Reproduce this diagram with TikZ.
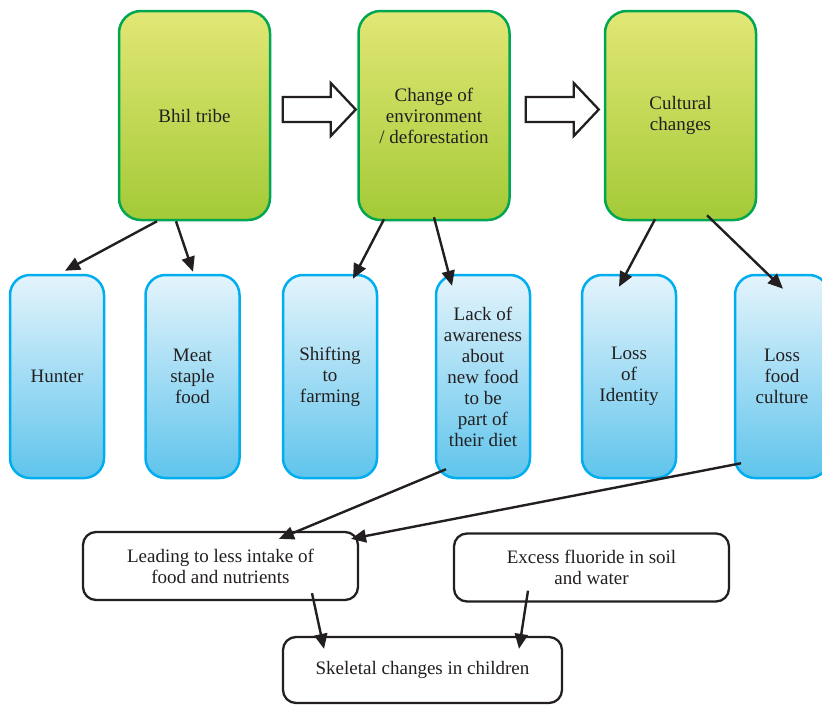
\documentclass[tikz,border=0pt]{standalone}
\usepackage{fontspec}
\setmainfont{Liberation Serif}
\usetikzlibrary{arrows.meta,positioning,calc}
\definecolor{boxgreen}{RGB}{0,166,81}
\definecolor{greentop}{RGB}{226,231,117}
\definecolor{greenbot}{RGB}{163,202,55}
\definecolor{boxblue}{RGB}{0,174,239}
\definecolor{bluetop}{RGB}{228,244,252}
\definecolor{bluebot}{RGB}{95,196,236}
\definecolor{inktext}{RGB}{35,31,32}
\tikzset{
    every node/.style={font=\fontsize{19}{21}\selectfont, text=inktext, align=center},
    causebox/.style={draw=boxgreen, line width=2.5pt, rounded corners=22pt,
        top color=greentop, bottom color=greenbot,
        minimum width=151pt, minimum height=209pt},
    effectbox/.style={draw=boxblue, line width=2.5pt, rounded corners=20pt,
        top color=bluetop, bottom color=bluebot,
        minimum width=94pt, minimum height=203pt},
    resultbox/.style={draw=inktext, line width=2.3pt, rounded corners=13pt, fill=white,
        minimum width=275pt, minimum height=68pt},
    arr/.style={-{Triangle[length=15pt,width=13pt]}, line width=2.4pt, draw=inktext},
    blockarrow/.style={draw=inktext, line width=2.3pt, fill=white, line join=miter},
}

\begin{document}
\begin{tikzpicture}[x=1pt, y=-1pt]
    \useasboundingbox (0,0) rectangle (822,705);

    % top row
    \node[causebox] (bhil) at (194.5,115.5) {Bhil tribe};
    \node[causebox] (change) at (434,115.5) {Change of\\environment\\/ deforestation};
    \node[causebox] (cultural) at (680.5,115.5) {Cultural\\changes};

    % block arrows between the top boxes
    \foreach \from/\to in {bhil/change, change/cultural} {
        \coordinate (S) at ($($(\from.east)!0.5!(\to.west)$)+(-31.5,-6)$);
        \draw[blockarrow] (S) ++(0,-12.5) -- ++(48,0) -- ++(0,-14) -- ++(25,26.5)
            -- ++(-25,26.5) -- ++(0,-14) -- ++(-48,0) -- cycle;
    }

    % middle row
    \node[effectbox] (hunter) at (57,376.5) {Hunter};
    \node[effectbox] (meat) at (192.5,376.5) {Meat\\staple\\food};
    \node[effectbox] (shifting) at (330,376.5) {Shifting\\to\\farming};
    \node[effectbox] (lack) at (483,376.5) {Lack of\\awareness\\about\\new food\\to be\\part of\\their diet};
    \node[effectbox] (lossid) at (629,376.5) {Loss\\of\\Identity};
    \node[effectbox] (lossfood) at (782,376.5) {Loss\\food\\culture};

    % bottom row
    \node[resultbox] (leading) at (220.5,566) {Leading to less intake of\\food and nutrients};
    \node[resultbox] (excess) at (591.5,567.5) {Excess fluoride in soil\\and water};
    \node[resultbox, minimum width=279pt, minimum height=66pt] (skeletal) at (422.5,670) {Skeletal changes in children};

    % connectors
    \draw[arr] ($(bhil.south)+(-37.5,0)$) -- ($(hunter.north)+(8,-3)$);
    \draw[arr] ($(bhil.south)+(-18.5,0)$) -- ($(meat.north)+(0.5,-2)$);
    \draw[arr] ($(change.south)+(-50,-2)$) -- ($(shifting.north)+(23,5)$);
    \draw[arr] ($(change.south)+(0,-4)$) -- ($(lack.north)+(-31,12)$);
    \draw[arr] ($(cultural.south)+(-25.5,-2)$) -- ($(lossid.north)+(-10,13)$);
    \draw[arr] ($(cultural.south)+(26.5,-6)$) -- ($(lossfood.north)+(1,15)$);
    \draw[arr] ($(lack.south)+(-37,-10)$) -- ($(leading.north)+(58.5,8)$);
    \draw[arr] ($(lossfood.south)+(-41,-16)$) -- ($(leading.north)+(130.5,8)$);
    \draw[arr] ($(leading.south)+(91.5,-8)$) -- ($(skeletal.north)+(-98.5,13)$);
    \draw[arr] ($(excess.south)+(-63.5,-12)$) -- ($(skeletal.north)+(96.5,13)$);
\end{tikzpicture}
\end{document}
